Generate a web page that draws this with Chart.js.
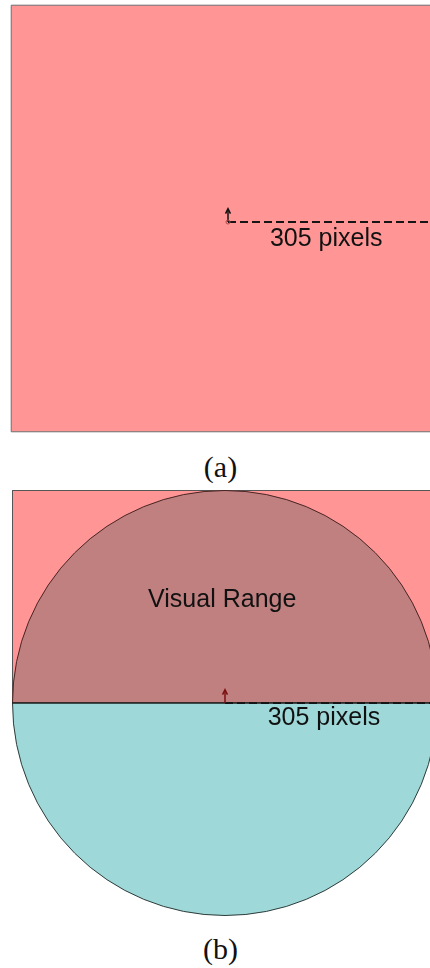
<!DOCTYPE html>
<html>
<head>
<meta charset="utf-8">
<script src="https://cdn.jsdelivr.net/npm/chart.js@4.4.1/dist/chart.umd.min.js"></script>
<style>
    html, body { margin: 0; padding: 0; background: #fff; }
    body { position: relative; width: 430px; height: 968px; overflow: hidden; }
    canvas { position: absolute; }
    #screenA { left: 0; top: 0; }
    #screenB { left: 12px; top: 490px; }
    .caption {
        position: absolute; left: 0; width: 441px; text-align: center;
        font-family: "Liberation Serif", serif; font-size: 30px; line-height: 30px; color: #111;
    }
</style>
</head>
<body>
<canvas id="screenA" width="430" height="445"></canvas>
<canvas id="screenB" width="426" height="426"></canvas>
<div class="caption" id="captionA" style="top:452px"></div>
<div class="caption" id="captionB" style="top:934px"></div>

<script>
const panels = ['(a)', '(b)'];
const distance = 305;                       // viewing distance in pixels
const distanceLabel = distance + ' pixels';
const rangeLabel = 'Visual Range';
const halves = [50, 50];                    // visible half, hidden half

// whole screen seen from the viewer, (a)
const screenX = [-309, 309, 309, -309, -309];
const screenY = [309, 309, -299, -299, 309];
// upper half of the screen, (b)
const halfX = [-distance, distance, distance, -distance, -distance];
const halfY = [0, 0, distance, distance, 0];

const zip = (xs, ys) => xs.map((x, i) => ({ x: x, y: ys[i] }));

document.getElementById('captionA').textContent = panels[0];
document.getElementById('captionB').textContent = panels[1];

const textLabels = {
    id: 'textLabels',
    afterDatasetsDraw(chart, args, opts) {
        const ctx = chart.ctx;
        const x = chart.scales.x;
        const y = chart.scales.y;
        ctx.save();
        ctx.fillStyle = '#111';
        ctx.font = '25px "Liberation Sans", Arial, sans-serif';
        ctx.textAlign = 'center';
        ctx.textBaseline = 'alphabetic';
        opts.items.forEach(item => {
            ctx.fillText(item.text, x.getPixelForValue(item.x), y.getPixelForValue(item.y));
        });
        ctx.restore();
    }
};

// weight 0 keeps these out of the pie's ring split
const line = (data, color, width, order, extra) => Object.assign({
    data: data,
    showLine: true,
    borderColor: color,
    borderWidth: width,
    pointRadius: 0,
    pointHoverRadius: 0,
    tension: 0,
    fill: false,
    weight: 0,
    order: order
}, extra || {});

const arrow = (color, order) => [
    line([{ x: 0, y: 0 }, { x: 0, y: 18 }], color, 1.5, order),
    line([{ x: -3.5, y: 12 }, { x: 0, y: 19 }, { x: 3.5, y: 12 }], color, 1.5, order)
];

const baseOptions = (xMin, xMax, yMin, yMax, labels) => ({
    responsive: false,
    animation: false,
    events: [],
    layout: { padding: 0, autoPadding: false },
    scales: {
        x: { type: 'linear', display: false, min: xMin, max: xMax },
        y: { type: 'linear', display: false, min: yMin, max: yMax }
    },
    plugins: {
        legend: { display: false },
        tooltip: { enabled: false },
        textLabels: { items: labels }
    }
});

// (a) the full screen, viewer in the middle
const k = 0.7016;
new Chart(document.getElementById('screenA'), {
    type: 'scatter',
    data: {
        datasets: [
            line(zip(screenX, screenY), '#6f6f6f', 1, 10, { fill: 'shape', backgroundColor: '#ff9595' }),
            line([{ x: 0, y: 0 }, { x: distance, y: 0 }], '#151515', 2, 3, { borderDash: [8, 4] }),
            ...arrow('#111', 1),
            {
                data: [{ x: 0, y: 0 }], pointRadius: 2, pointHoverRadius: 2, pointBorderWidth: 1,
                pointBorderColor: '#b04848', pointBackgroundColor: 'rgba(0,0,0,0)', order: 0
            }
        ]
    },
    options: baseOptions(-228 / k, 202 / k, -223 / k, 222 / k, [
        { text: distanceLabel, x: 140, y: -34 }
    ]),
    plugins: [textLabels]
});

// (b) visual range as a half circle over the upper half of the screen
const span = 305.7;
new Chart(document.getElementById('screenB'), {
    type: 'scatter',
    data: {
        datasets: [
            line(zip(halfX, halfY), '#555', 1, 10, { fill: 'shape', backgroundColor: '#ff9595' }),
            {
                type: 'pie',
                data: halves,
                backgroundColor: ['#c08080', '#9ed8d8'],
                borderColor: ['#4a2323', '#2e3a3a'],
                borderWidth: 1,
                hoverOffset: 0,
                offset: 0,
                cutout: 0,
                radius: '100%',
                rotation: -90,
                weight: 1,
                order: 6
            },
            line([{ x: -distance, y: 0 }, { x: distance, y: 0 }], '#111', 1, 4),
            line([{ x: 0, y: 0 }, { x: distance, y: 0 }], '#151515', 2, 3, { borderDash: [8, 4] }),
            ...arrow('#7a0f0f', 1)
        ]
    },
    options: baseOptions(-span, span, -span, span, [
        { text: rangeLabel, x: -4, y: 138 },
        { text: distanceLabel, x: 142, y: -32 }
    ]),
    plugins: [textLabels]
});
</script>
</body>
</html>
